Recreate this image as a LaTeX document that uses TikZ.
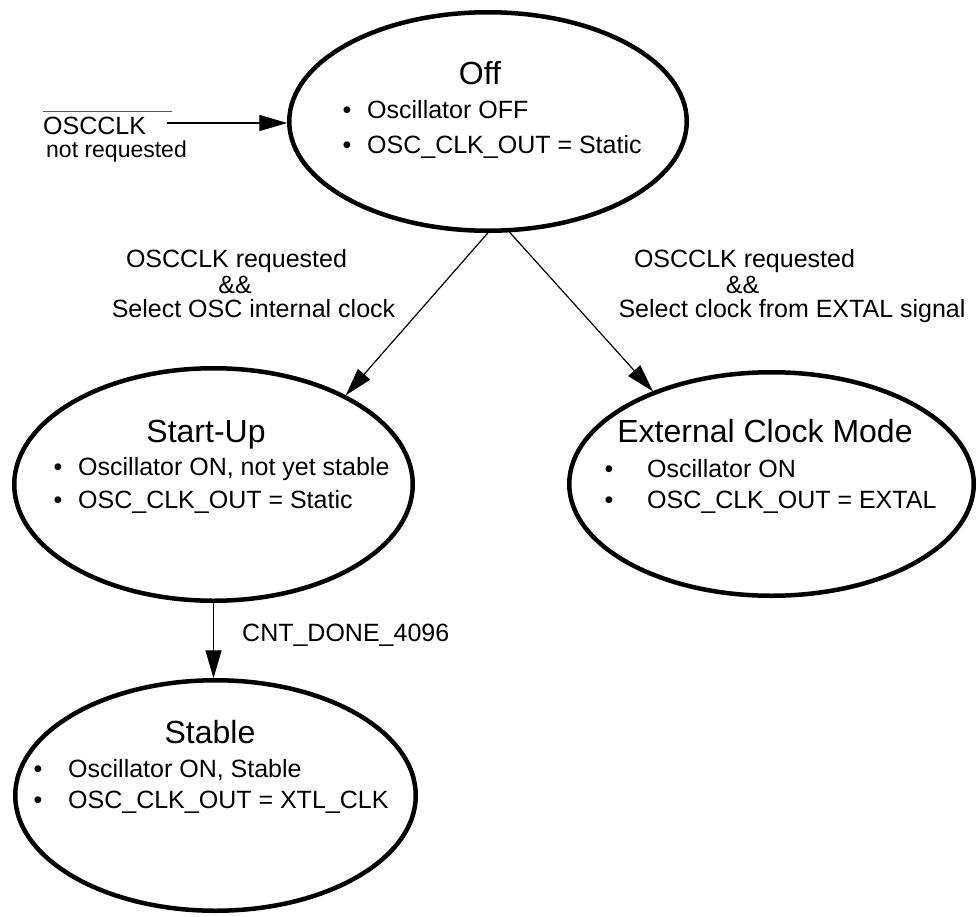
\documentclass[tikz,border=0pt]{standalone}
\usepackage{fontspec}
\setmainfont{Liberation Sans}
\usetikzlibrary{shapes.geometric,arrows.meta}
\definecolor{olgray}{RGB}{90,90,90}
\begin{document}
\begin{tikzpicture}[x=1pt,y=-1pt,
  state/.style={draw, ellipse, line width=4.5pt, inner sep=0pt, outer sep=2pt},
  title/.style={anchor=base, inner sep=0pt, font=\fontsize{32}{38}\selectfont},
  item/.style={anchor=base west, inner sep=0pt, font=\fontsize{25}{30}\selectfont},
  dot/.style={anchor=base, inner sep=0pt, font=\fontsize{25}{30}\selectfont},
  lbl/.style={anchor=base, inner sep=0pt, font=\fontsize{25}{30}\selectfont},
  lblw/.style={anchor=base west, inner sep=0pt, font=\fontsize{25}{30}\selectfont},
  conn/.style={line width=1.2pt, -{Triangle[length=28pt,width=16pt]}}
]
\useasboundingbox (0,0) rectangle (977,916);

% states
\node[state, minimum width=397.5pt, minimum height=218.5pt] (off) at (488,121.5) {};
\node[state, minimum width=398.5pt, minimum height=232.5pt] (su) at (213.5,484.5) {};
\node[state, minimum width=404.5pt, minimum height=223.5pt] (ext) at (771.5,484) {};
\node[state, minimum width=400.5pt, minimum height=230.5pt] (stb) at (215.5,795.5) {};

% Off text
\node[title] (offt) at (480,84) {Off};
\node[dot] (offd1) at (347,118) {•};
\node[item] (offi1) at (367,118) {Oscillator OFF};
\node[dot] (offd2) at (347,153) {•};
\node[item] (offi2) at (367,153) {OSC\_CLK\_OUT = Static};

% Start-Up text
\node[title] (sut) at (206,442) {Start-Up};
\node[dot] (sud1) at (58,475) {•};
\node[item] (sui1) at (78,475) {Oscillator ON, not yet stable};
\node[dot] (sud2) at (58,508) {•};
\node[item] (sui2) at (78,508) {OSC\_CLK\_OUT = Static};

% External text
\node[title] (extt) at (765,442) {External Clock Mode};
\node[dot] (extd1) at (609,477) {•};
\node[item] (exti1) at (647,477) {Oscillator ON};
\node[dot] (extd2) at (609,508) {•};
\node[item] (exti2) at (647,508) {OSC\_CLK\_OUT = EXTAL};

% Stable text
\node[title] (stbt) at (210,743) {Stable};
\node[dot] (stbd1) at (38,777) {•};
\node[item] (stbi1) at (68,777) {Oscillator ON, Stable};
\node[dot] (stbd2) at (38,808) {•};
\node[item] (stbi2) at (68,808) {OSC\_CLK\_OUT = XTL\_CLK};

% incoming transition
\node[lblw] (osc) at (43,134) {OSCCLK};
\node[anchor=base west, inner sep=0pt, font=\fontsize{23}{28}\selectfont] (notreq) at (46,157) {not requested};
\coordinate (ol1) at (43,111);
\coordinate (ol2) at (172,111);
\draw[olgray, line width=1pt] (ol1) -- (ol2);
\coordinate (inA) at (167,123);
\draw[conn] (inA) -- (inA -| off.west);

% transitions
\draw[conn] (off.south) -- (su.34.5);
\draw[conn] (off.-79.2) -- (ext.142.1);
\draw[conn] (su.south) -- (su.south |- stb.north);

% labels
\node[lbl] (l1a) at (236.5,267) {OSCCLK requested};
\node[lbl] (l1b) at (235,293) {\&\&};
\node[lbl] (l1c) at (253.5,317) {Select OSC internal clock};
\node[lbl] (r1a) at (744.5,267) {OSCCLK requested};
\node[lbl] (r1b) at (742.5,293) {\&\&};
\node[lbl] (r1c) at (792,317) {Select clock from EXTAL signal};
\node[lblw] (cnt) at (242,641) {CNT\_DONE\_4096};
\end{tikzpicture}
\end{document}
